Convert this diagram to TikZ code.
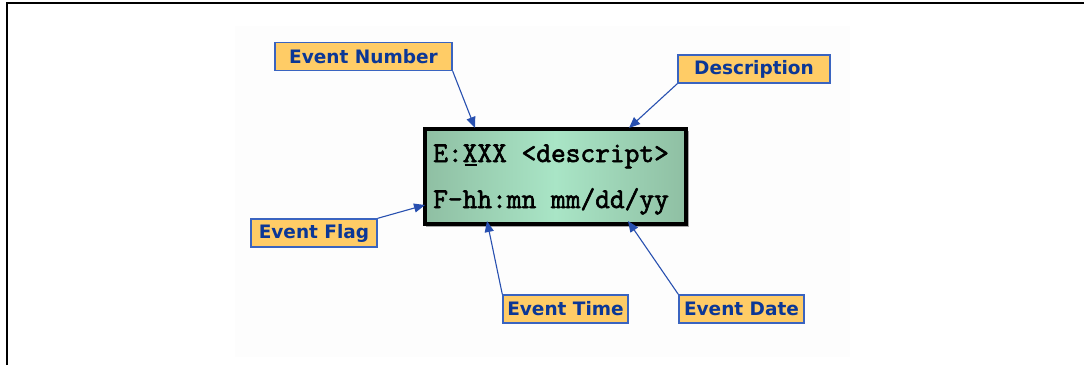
\documentclass[tikz,border=0pt]{standalone}
\usepackage{fontspec}
\setmainfont{DejaVu Sans}
\newfontfamily\lblfont{DejaVu Sans}
\newfontfamily\lcdfont[FakeBold=2.2]{Latin Modern Mono}
\usetikzlibrary{arrows.meta,shadings}
\definecolor{lblfill}{HTML}{FFCC66}
\definecolor{lbldraw}{HTML}{3A64C0}
\definecolor{lbltext}{HTML}{0B3796}
\definecolor{arrowcol}{HTML}{2850B0}
\definecolor{lcdedge}{HTML}{8FBFA3}
\definecolor{lcdmid}{HTML}{A9E5C6}
\newcommand{\ulX}{\makebox[0pt][l]{\hspace{0.07em}\rule[-3.5pt]{0.42em}{2pt}}X}
\begin{document}
\begin{tikzpicture}[x=1pt,y=-1pt,
  lbl/.style={draw=lbldraw, fill=lblfill, text=lbltext, line width=1.4pt,
    font=\lblfont\bfseries\fontsize{18.5}{20}\selectfont, inner sep=0pt,
    minimum height=28pt, anchor=center},
  conn/.style={draw=arrowcol, line width=1.1pt, -{Triangle[length=11pt,width=9pt]}},
  lcdtext/.style={font=\lcdfont\fontsize{28.6}{30}\selectfont, inner sep=0pt, anchor=base west},
  frameline/.style={line width=1.4pt, black}]
  \useasboundingbox (0,0) rectangle (1084,365);
  \fill[white] (0,0) rectangle (1084,365);
  \fill[black!0.8] (235,26) rectangle (850,357);
  \draw[frameline] (7,365) -- (7,3) -- (1084,3);

  % LCD
  \fill[black!35] (426,131) rectangle (689,227);
  \node[draw=black, line width=4pt, minimum width=261pt, minimum height=95pt,
        left color=lcdedge, right color=lcdedge, middle color=lcdmid,
        inner sep=0pt] (lcd) at (555.5,176.5) {};
  \node[lcdtext] (l1) at (433,162) {E:\ulX XX <descript>};
  \node[lcdtext] (l2) at (433,208) {F-hh:mn mm/dd/yy};

  % labels
  \node[lbl, minimum width=177pt] (num) at (363.5,56.5) {Event Number};
  \node[lbl, minimum width=152pt] (desc) at (754,69) {Description};
  \node[lbl, minimum width=126pt] (flag) at (314,233) {Event Flag};
  \node[lbl, minimum width=125pt] (time) at (565.5,309) {Event Time};
  \node[lbl, minimum width=125pt] (date) at (741.5,309) {Event Date};

  % tips
  \coordinate (tnum) at (475,128);
  \coordinate (tdesc) at (629,128);
  \coordinate (tflag) at (425,205);
  \coordinate (ttime) at (487,221);
  \coordinate (tdate) at (628,221);

  \draw[conn] (num.south east) -- (tnum);
  \draw[conn] (desc.south west) -- (tdesc);
  \draw[conn] (flag.north east) -- (tflag);
  \draw[conn] (time.north west) -- (ttime);
  \draw[conn] (date.north west) -- (tdate);
\end{tikzpicture}
\end{document}
